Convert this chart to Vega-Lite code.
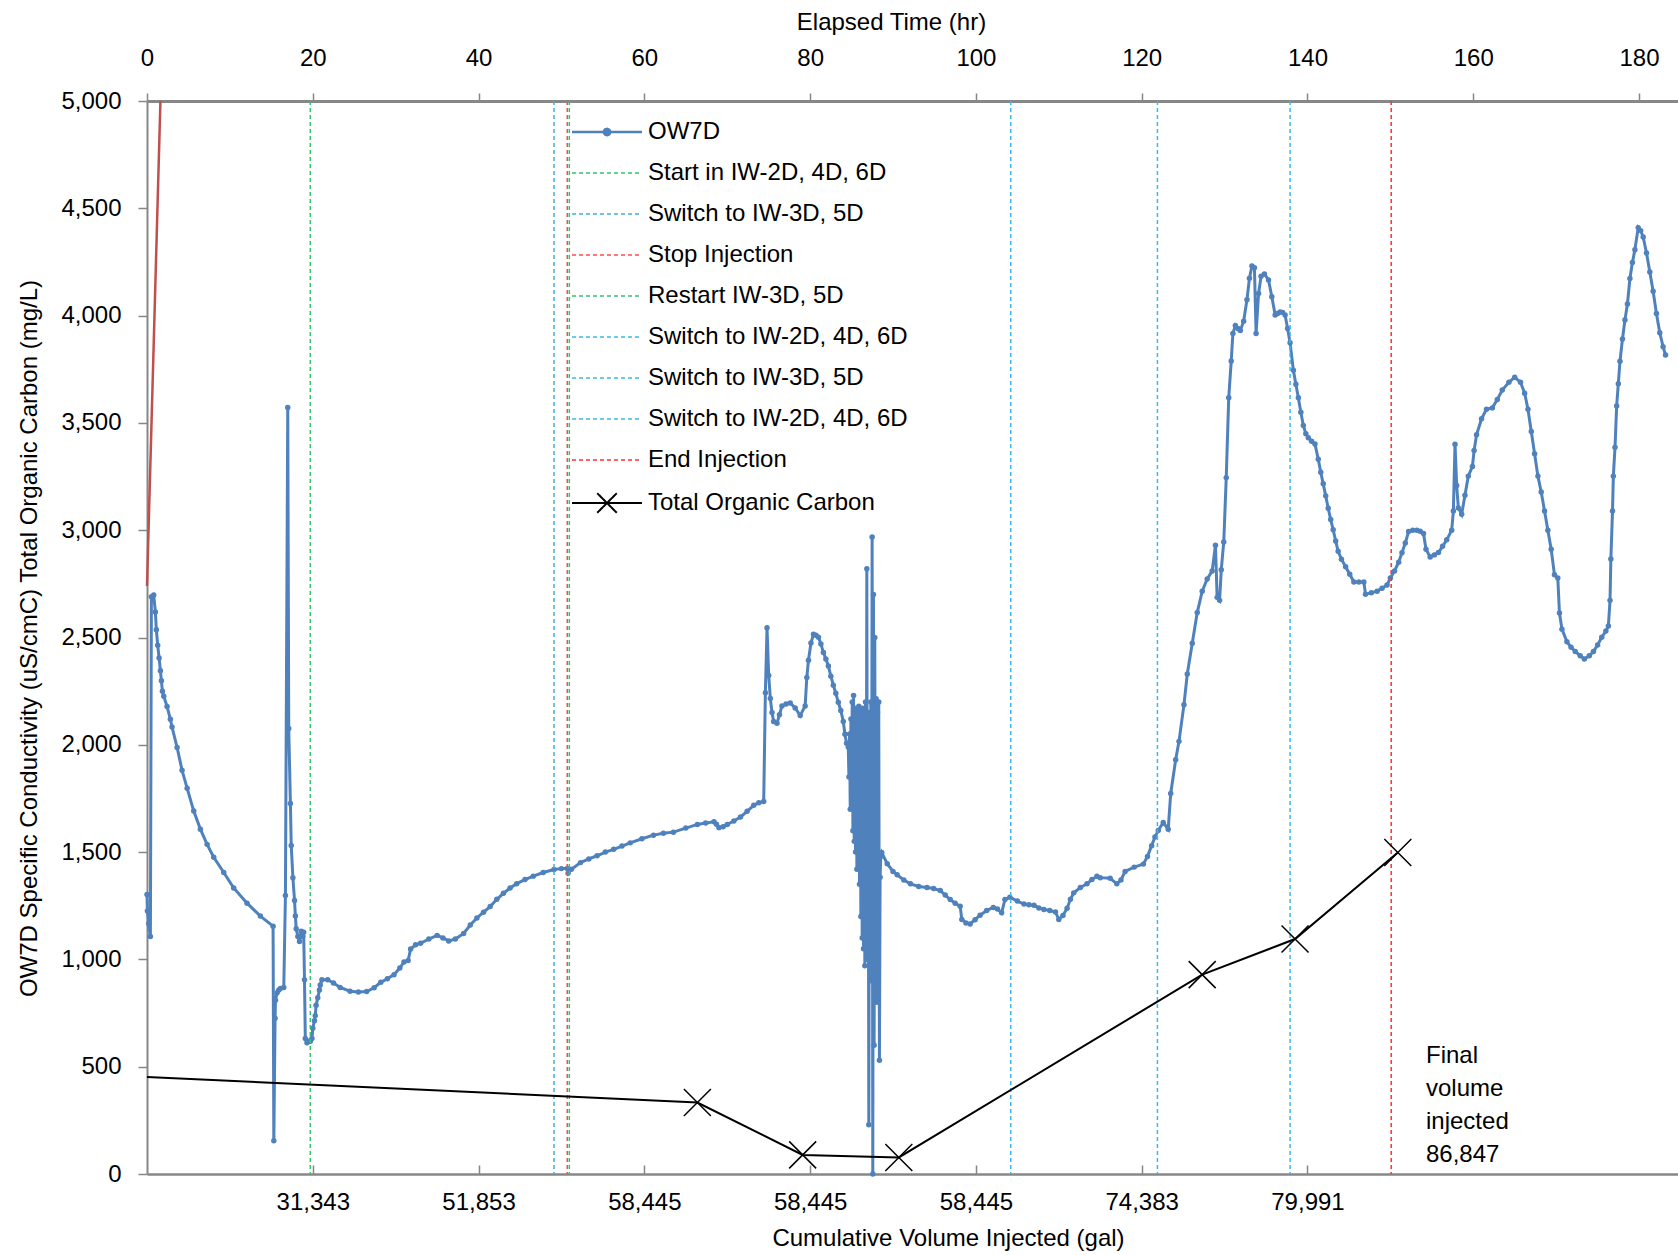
{
  "$schema": "https://vega.github.io/schema/vega-lite/v6.json",
  "width": 1531,
  "height": 1073,
  "autosize": {"type": "none"},
  "padding": {"left": 147, "top": 101, "right": 0, "bottom": 81},
  "background": "white",
  "config": {
    "font": "Liberation Sans",
    "view": {"stroke": null},
    "axis": {
      "labelFont": "Liberation Sans", "titleFont": "Liberation Sans",
      "labelFontSize": 24, "titleFontSize": 24, "labelColor": "#000000", "titleColor": "#000000",
      "titleFontWeight": "normal", "domainColor": "#878787", "tickColor": "#878787", "tickWidth": 1.5, "grid": false
    }
  },
  "datasets": {
    "ow7d": [
      {"hr":0,"v":1302},{"hr":0.05,"v":1226},{"hr":0.2,"v":1167},{"hr":0.41,"v":1107},{"hr":0.53,"v":2690},{"hr":0.81,"v":2698},{"hr":1.01,"v":2619},{"hr":1.13,"v":2536},{"hr":1.29,"v":2464},{"hr":1.46,"v":2405},{"hr":1.62,"v":2345},{"hr":1.74,"v":2298},{"hr":1.86,"v":2250},{"hr":2.02,"v":2226},{"hr":2.42,"v":2179},{"hr":2.82,"v":2119},{"hr":3.02,"v":2083},{"hr":3.63,"v":1988},{"hr":4.23,"v":1881},{"hr":4.84,"v":1798},{"hr":5.64,"v":1691},{"hr":6.44,"v":1607},{"hr":7.25,"v":1536},{"hr":8.05,"v":1476},{"hr":9.26,"v":1405},{"hr":10.46,"v":1333},{"hr":12.07,"v":1262},{"hr":13.68,"v":1202},{"hr":15.21,"v":1155},
      {"hr":15.3,"v":155},{"hr":15.45,"v":726},{"hr":15.5,"v":810},{"hr":15.7,"v":845},{"hr":15.9,"v":857},{"hr":16.1,"v":864},{"hr":16.5,"v":869},{"hr":16.7,"v":1298},{"hr":16.98,"v":3572},{"hr":17.1,"v":2076},{"hr":17.3,"v":1726},{"hr":17.4,"v":1531},{"hr":17.6,"v":1381},{"hr":17.8,"v":1274},{"hr":17.9,"v":1202},{"hr":18.0,"v":1143},{"hr":18.2,"v":1107},{"hr":18.4,"v":1083},{"hr":18.6,"v":1131},{"hr":18.8,"v":1107},{"hr":18.9,"v":1126},{"hr":19.0,"v":905},{"hr":19.1,"v":631},{"hr":19.3,"v":612},{"hr":19.5,"v":619},{"hr":19.7,"v":619},{"hr":19.9,"v":631},{"hr":20.0,"v":679},{"hr":20.2,"v":714},{"hr":20.3,"v":738},{"hr":20.4,"v":786},{"hr":20.6,"v":821},{"hr":20.8,"v":857},{"hr":20.9,"v":881},
      {"hr":21.1,"v":905},{"hr":21.8,"v":905},{"hr":22.5,"v":890},{"hr":23.3,"v":869},{"hr":24.5,"v":852},{"hr":25.5,"v":848},{"hr":26.5,"v":850},{"hr":27.4,"v":868},{"hr":28.2,"v":893},{"hr":29.0,"v":910},{"hr":29.8,"v":929},{"hr":30.5,"v":960},{"hr":31.0,"v":988},{"hr":31.5,"v":995},{"hr":31.8,"v":1048},{"hr":32.4,"v":1068},{"hr":33.0,"v":1075},{"hr":34.0,"v":1095},{"hr":35.0,"v":1112},{"hr":35.7,"v":1100},{"hr":36.4,"v":1086},{"hr":37.2,"v":1095},{"hr":38.2,"v":1121},{"hr":39.0,"v":1160},{"hr":39.8,"v":1193},{"hr":40.6,"v":1220},{"hr":41.4,"v":1246},{"hr":42.2,"v":1280},{"hr":43.0,"v":1308},{"hr":43.8,"v":1333},{"hr":44.6,"v":1353},{"hr":45.6,"v":1372},{"hr":46.6,"v":1388},{"hr":47.8,"v":1405},{"hr":49.1,"v":1419},{"hr":50.0,"v":1423},{"hr":50.7,"v":1424},{"hr":50.8,"v":1401},{"hr":51.2,"v":1420},{"hr":52.3,"v":1451},{"hr":53.3,"v":1468},{"hr":54.3,"v":1483},{"hr":55.3,"v":1500},{"hr":56.3,"v":1513},{"hr":57.3,"v":1528},{"hr":58.3,"v":1543},{"hr":59.7,"v":1562},{"hr":61.1,"v":1579},{"hr":62.3,"v":1588},{"hr":63.5,"v":1593},{"hr":65.0,"v":1612},{"hr":66.4,"v":1629},{"hr":67.4,"v":1636},{"hr":68.4,"v":1641},{"hr":68.7,"v":1630},{"hr":69.0,"v":1614},{"hr":69.5,"v":1618},{"hr":70.0,"v":1629},{"hr":70.8,"v":1645},{"hr":71.6,"v":1664},{"hr":72.4,"v":1690},{"hr":73.2,"v":1718},{"hr":73.8,"v":1730},{"hr":74.4,"v":1736},
      {"hr":74.6,"v":2243},{"hr":74.8,"v":2545},{"hr":75.0,"v":2323},{"hr":75.2,"v":2216},{"hr":75.4,"v":2150},{"hr":75.6,"v":2109},{"hr":76.0,"v":2100},{"hr":76.3,"v":2140},{"hr":76.6,"v":2181},{"hr":77.1,"v":2190},{"hr":77.6,"v":2195},{"hr":78.2,"v":2172},{"hr":78.8,"v":2136},{"hr":79.4,"v":2181},{"hr":79.6,"v":2314},{"hr":79.8,"v":2394},{"hr":80.1,"v":2474},{"hr":80.4,"v":2515},{"hr":80.7,"v":2510},{"hr":81.0,"v":2501},{"hr":81.3,"v":2470},{"hr":81.6,"v":2430},{"hr":81.9,"v":2400},{"hr":82.2,"v":2367},{"hr":82.5,"v":2320},{"hr":82.8,"v":2278},{"hr":83.1,"v":2240},{"hr":83.4,"v":2198},{"hr":83.7,"v":2160},{"hr":84.0,"v":2109},{"hr":84.2,"v":2049},{"hr":84.4,"v":2007},
      {"hr":84.6,"v":1990},{"hr":84.68,"v":1850},{"hr":84.76,"v":2050},{"hr":84.84,"v":1700},{"hr":84.92,"v":2120},{"hr":85.0,"v":1780},{"hr":85.08,"v":2200},{"hr":85.16,"v":1600},{"hr":85.24,"v":2230},{"hr":85.32,"v":1550},{"hr":85.4,"v":2150},{"hr":85.48,"v":1500},{"hr":85.56,"v":2170},{"hr":85.64,"v":1420},{"hr":85.72,"v":2100},{"hr":85.8,"v":1520},{"hr":85.88,"v":2180},{"hr":85.96,"v":1350},{"hr":86.04,"v":2130},{"hr":86.12,"v":1200},{"hr":86.2,"v":2160},{"hr":86.28,"v":1100},{"hr":86.36,"v":2170},{"hr":86.44,"v":1050},{"hr":86.52,"v":2150},{"hr":86.6,"v":970},{"hr":86.68,"v":2200},{"hr":86.76,"v":1150},{"hr":86.84,"v":2820},{"hr":86.92,"v":1000},{"hr":87.0,"v":2150},{"hr":87.08,"v":230},{"hr":87.16,"v":2100},{"hr":87.24,"v":1200},{"hr":87.32,"v":2200},{"hr":87.4,"v":900},{"hr":87.48,"v":2968},{"hr":87.56,"v":0},{"hr":87.64,"v":2700},{"hr":87.72,"v":600},{"hr":87.8,"v":2500},{"hr":87.88,"v":1000},{"hr":87.96,"v":2215},{"hr":88.04,"v":800},{"hr":88.12,"v":2150},{"hr":88.2,"v":1000},{"hr":88.28,"v":2200},{"hr":88.36,"v":530},{"hr":88.44,"v":1383},{"hr":88.52,"v":1480},{"hr":88.64,"v":1498},
      {"hr":89.3,"v":1446},{"hr":90.0,"v":1410},{"hr":90.5,"v":1394},{"hr":91.3,"v":1370},{"hr":92.1,"v":1352},{"hr":93.1,"v":1340},{"hr":94.1,"v":1335},{"hr":94.9,"v":1330},{"hr":95.7,"v":1321},{"hr":96.3,"v":1300},{"hr":96.9,"v":1279},{"hr":97.5,"v":1262},{"hr":98.1,"v":1248},{"hr":98.3,"v":1186},{"hr":98.8,"v":1170},{"hr":99.3,"v":1165},{"hr":99.9,"v":1185},{"hr":100.5,"v":1206},{"hr":101.3,"v":1228},{"hr":102.1,"v":1242},{"hr":102.6,"v":1235},{"hr":103.1,"v":1217},{"hr":103.5,"v":1279},{"hr":104.1,"v":1290},{"hr":105.0,"v":1272},{"hr":105.8,"v":1258},{"hr":106.4,"v":1255},{"hr":107.0,"v":1252},{"hr":107.6,"v":1240},{"hr":108.2,"v":1233},{"hr":108.9,"v":1228},{"hr":109.6,"v":1221},{"hr":110.0,"v":1186},{"hr":110.5,"v":1205},{"hr":111.0,"v":1238},{"hr":111.4,"v":1280},{"hr":111.8,"v":1310},{"hr":112.6,"v":1335},{"hr":113.4,"v":1352},{"hr":114.0,"v":1372},{"hr":114.6,"v":1387},{"hr":115.0,"v":1381},{"hr":116.2,"v":1378},{"hr":117.0,"v":1352},{"hr":117.5,"v":1370},{"hr":118.0,"v":1410},{"hr":119.1,"v":1430},{"hr":120.2,"v":1444},{"hr":120.7,"v":1480},{"hr":121.2,"v":1530},{"hr":121.6,"v":1570},{"hr":122.0,"v":1601},{"hr":122.6,"v":1638},{"hr":123.2,"v":1607},
      {"hr":123.5,"v":1773},{"hr":124.1,"v":1930},{"hr":124.5,"v":2016},{"hr":125.1,"v":2187},{"hr":125.5,"v":2330},{"hr":126.1,"v":2473},{"hr":126.7,"v":2616},{"hr":127.3,"v":2716},{"hr":127.9,"v":2773},{"hr":128.5,"v":2810},{"hr":128.9,"v":2930},{"hr":129.1,"v":2687},{"hr":129.4,"v":2673},{"hr":129.6,"v":2816},{"hr":129.9,"v":2945},{"hr":130.2,"v":3245},{"hr":130.5,"v":3617},{"hr":130.8,"v":3788},{"hr":131.0,"v":3917},{"hr":131.3,"v":3954},{"hr":131.6,"v":3940},{"hr":131.9,"v":3931},{"hr":132.3,"v":3974},{"hr":132.7,"v":4074},{"hr":133.0,"v":4174},{"hr":133.3,"v":4231},{"hr":133.6,"v":4223},{"hr":133.8,"v":3917},{"hr":134.1,"v":4103},{"hr":134.4,"v":4183},{"hr":134.8,"v":4194},{"hr":135.3,"v":4166},{"hr":135.7,"v":4088},{"hr":136.1,"v":4003},{"hr":136.4,"v":4010},{"hr":136.7,"v":4017},{"hr":137.0,"v":4015},{"hr":137.3,"v":4003},{"hr":137.6,"v":3940},{"hr":137.9,"v":3874},{"hr":138.3,"v":3745},{"hr":138.6,"v":3680},{"hr":138.9,"v":3617},{"hr":139.2,"v":3550},{"hr":139.5,"v":3488},{"hr":139.8,"v":3450},{"hr":140.1,"v":3431},{"hr":140.5,"v":3415},{"hr":140.9,"v":3402},{"hr":141.3,"v":3331},{"hr":141.6,"v":3270},{"hr":141.9,"v":3216},{"hr":142.2,"v":3160},{"hr":142.5,"v":3102},{"hr":142.8,"v":3050},{"hr":143.1,"v":3002},{"hr":143.4,"v":2950},{"hr":143.7,"v":2902},{"hr":144.1,"v":2865},{"hr":144.6,"v":2830},{"hr":145.1,"v":2795},{"hr":145.6,"v":2759},{"hr":146.2,"v":2759},{"hr":146.8,"v":2759},{"hr":147.0,"v":2702},{"hr":147.7,"v":2708},{"hr":148.4,"v":2716},{"hr":149.0,"v":2730},{"hr":149.6,"v":2745},{"hr":150.0,"v":2777},{"hr":150.5,"v":2810},{"hr":151.0,"v":2851},{"hr":151.4,"v":2895},{"hr":151.8,"v":2940},{"hr":152.2,"v":2994},{"hr":152.7,"v":3000},{"hr":153.2,"v":3000},{"hr":153.6,"v":2995},{"hr":154.0,"v":2985},{"hr":154.3,"v":2911},{"hr":154.8,"v":2875},{"hr":155.3,"v":2885},{"hr":155.8,"v":2896},{"hr":156.3,"v":2925},{"hr":156.8,"v":2955},{"hr":157.4,"v":3000},{"hr":157.6,"v":3089},{"hr":157.8,"v":3401},{"hr":158.0,"v":3208},{"hr":158.2,"v":3104},{"hr":158.6,"v":3074},{"hr":159.0,"v":3163},{"hr":159.4,"v":3252},{"hr":159.9,"v":3297},{"hr":160.1,"v":3371},{"hr":160.4,"v":3445},{"hr":161.0,"v":3519},{"hr":161.6,"v":3564},{"hr":162.3,"v":3570},{"hr":162.9,"v":3609},{"hr":163.5,"v":3653},{"hr":164.3,"v":3689},{"hr":165.0,"v":3713},{"hr":165.7,"v":3689},{"hr":166.2,"v":3638},{"hr":166.6,"v":3564},{"hr":167.0,"v":3460},{"hr":167.4,"v":3356},{"hr":167.8,"v":3252},{"hr":168.2,"v":3178},{"hr":168.6,"v":3089},{"hr":169.0,"v":3000},{"hr":169.4,"v":2911},{"hr":169.8,"v":2792},{"hr":170.2,"v":2777},{"hr":170.4,"v":2614},{"hr":170.7,"v":2539},{"hr":171.3,"v":2480},{"hr":171.8,"v":2455},{"hr":172.3,"v":2435},{"hr":172.9,"v":2415},{"hr":173.4,"v":2400},{"hr":174.0,"v":2415},{"hr":174.5,"v":2435},{"hr":175.0,"v":2465},{"hr":175.5,"v":2501},{"hr":176.0,"v":2530},{"hr":176.3,"v":2554},{"hr":176.5,"v":2673},{"hr":176.6,"v":2866},{"hr":176.8,"v":3089},{"hr":176.9,"v":3252},{"hr":177.1,"v":3386},{"hr":177.3,"v":3579},{"hr":177.5,"v":3683},{"hr":177.7,"v":3787},{"hr":178.0,"v":3891},{"hr":178.3,"v":3980},{"hr":178.6,"v":4054},{"hr":178.9,"v":4173},{"hr":179.2,"v":4247},{"hr":179.5,"v":4307},{"hr":179.9,"v":4410},{"hr":180.2,"v":4396},{"hr":180.5,"v":4366},{"hr":180.9,"v":4292},{"hr":181.3,"v":4203},{"hr":181.7,"v":4113},{"hr":182.1,"v":4010},{"hr":182.5,"v":3920},{"hr":182.9,"v":3855},{"hr":183.2,"v":3816}
    ],
    "events": [
      {"hr":19.7,"event":"Start in IW-2D, 4D, 6D"},
      {"hr":49.1,"event":"Switch to IW-3D, 5D"},
      {"hr":50.7,"event":"Stop Injection"},
      {"hr":50.95,"event":"Restart IW-3D, 5D"},
      {"hr":104.2,"event":"Switch to IW-2D, 4D, 6D"},
      {"hr":121.9,"event":"Switch to IW-3D, 5D #2"},
      {"hr":137.9,"event":"Switch to IW-2D, 4D, 6D #2"},
      {"hr":150.1,"event":"End Injection"}
    ],
    "toc": [
      {"hr":0,"v":452,"marker":false},
      {"hr":66.4,"v":333,"marker":true},
      {"hr":79.1,"v":89,"marker":true},
      {"hr":90.7,"v":77,"marker":true},
      {"hr":127.3,"v":929,"marker":true},
      {"hr":138.5,"v":1095,"marker":true},
      {"hr":150.9,"v":1498,"marker":true}
    ],
    "red": [{"hr":0,"v":2740},{"hr":1.62,"v":5000}],
    "note": [{"text":"Final\nvolume\ninjected\n86,847"}]
  },
  "layer": [
    {
      "data": {"name": "red"},
      "mark": {"type": "line", "color": "#C0504D", "strokeWidth": 2.5},
      "encoding": {
        "x": {"field": "hr", "type": "quantitative", "scale": {"domain": [0, 184.7], "nice": false, "zero": false}, "axis": null},
        "y": {"field": "v", "type": "quantitative", "scale": {"domain": [0, 5000], "nice": false}, "axis": null}
      }
    },
    {
      "data": {"name": "ow7d"},
      "mark": {"type": "line", "strokeWidth": 3, "point": {"filled": true, "size": 30}},
      "encoding": {
        "x": {"field": "hr", "type": "quantitative", "scale": {"domain": [0, 184.7], "nice": false, "zero": false},
          "axis": {"orient": "top", "values": [0,20,40,60,80,100,120,140,160,180], "title": "Elapsed Time (hr)",
            "titleX": 744, "titleY": -79, "titleAlign": "center", "titleBaseline": "middle", "titleAngle": 0,
            "labelBaseline": "middle", "labelPadding": 35, "tickSize": 8, "domainWidth": 3, "labelFlush": false, "labelOverlap": false}},
        "y": {"field": "v", "type": "quantitative", "scale": {"domain": [0, 5000], "nice": false},
          "axis": {"orient": "left", "values": [0,500,1000,1500,2000,2500,3000,3500,4000,4500,5000], "format": ",.0f",
            "title": "OW7D Specific Conductivity (uS/cmC) Total Organic Carbon (mg/L)",
            "titleX": -118, "titleY": 537, "titleAlign": "center", "titleBaseline": "middle", "titleAngle": -90,
            "tickSize": 9, "labelPadding": 17, "domainWidth": 2, "labelFlush": false, "labelOverlap": false}},
        "color": {"datum": "OW7D", "type": "nominal", "title": null,
          "scale": {
            "domain": ["OW7D","Start in IW-2D, 4D, 6D","Switch to IW-3D, 5D","Stop Injection","Restart IW-3D, 5D","Switch to IW-2D, 4D, 6D","Switch to IW-3D, 5D #2","Switch to IW-2D, 4D, 6D #2","End Injection","Total Organic Carbon"],
            "range": ["#4F81BD","#34C46F","#45ADD8","#FF4B4B","#34C46F","#3BB9EE","#3BB9EE","#3BB9EE","#FF3030","#000000"]
          },
          "legend": {
            "title": null, "orient": "none", "legendX": 448, "legendY": 19, "padding": 0,
            "labelFont": "Liberation Sans", "labelFontSize": 24, "labelColor": "#000000", "labelLimit": 600,
            "labelOffset": 29, "rowPadding": 17, "symbolSize": 4900,
            "labelExpr": "replace(datum.label, ' #2', '')",
            "encode": {"symbols": {"update": {
              "shape": {"signal": "datum.value === 'OW7D' ? 'M-1,0L1,0M0.09,0A0.09,0.09 0 1,1 -0.09,0A0.09,0.09 0 1,1 0.09,0' : datum.value === 'Total Organic Carbon' ? 'M-1,0L1,0M-0.28,-0.28L0.28,0.28M0.28,-0.28L-0.28,0.28' : 'M-1,0L1,0'"},
              "strokeDash": {"signal": "datum.value === 'OW7D' || datum.value === 'Total Organic Carbon' ? [1,0] : [4,3]"},
              "strokeWidth": {"signal": "datum.value === 'OW7D' ? 2.5 : datum.value === 'Total Organic Carbon' ? 2 : 1.5"},
              "fill": {"scale": "color", "field": "value"},
              "stroke": {"scale": "color", "field": "value"},
              "size": {"value": 4900},
              "opacity": {"value": 1}
            }}}
          }
        }
      }
    },
    {
      "data": {"name": "events"},
      "mark": {"type": "rule", "strokeDash": [4, 3], "strokeWidth": 1.5},
      "encoding": {
        "x": {"field": "hr", "type": "quantitative", "scale": {"domain": [0, 184.7], "nice": false, "zero": false}, "axis": null},
        "color": {"field": "event", "type": "nominal", "title": null}
      }
    },
    {
      "data": {"name": "toc"},
      "mark": {"type": "line", "strokeWidth": 2},
      "encoding": {
        "x": {"field": "hr", "type": "quantitative", "scale": {"domain": [0, 184.7], "nice": false, "zero": false},
          "axis": {"orient": "bottom", "values": [20,40,60,80,100,120,140],
            "labelExpr": "datum.value == 20 ? '31,343' : datum.value == 40 ? '51,853' : datum.value == 120 ? '74,383' : datum.value == 140 ? '79,991' : '58,445'",
            "title": "Cumulative Volume Injected (gal)",
            "titleX": 801, "titleY": 64, "titleAlign": "center", "titleBaseline": "middle",
            "labelBaseline": "middle", "tickSize": -9, "labelPadding": 37, "domainWidth": 2.5, "labelFlush": false, "labelOverlap": false}},
        "y": {"field": "v", "type": "quantitative", "scale": {"domain": [0, 5000], "nice": false}, "axis": null},
        "color": {"datum": "Total Organic Carbon", "type": "nominal", "title": null}
      }
    },
    {
      "data": {"name": "toc"},
      "transform": [{"filter": "datum.marker"}],
      "mark": {"type": "point", "shape": "M-1,-1L1,1M1,-1L-1,1", "size": 729, "filled": false, "stroke": "#000000", "strokeWidth": 1.5, "opacity": 1},
      "encoding": {
        "x": {"field": "hr", "type": "quantitative", "scale": {"domain": [0, 184.7], "nice": false, "zero": false}, "axis": null},
        "y": {"field": "v", "type": "quantitative", "scale": {"domain": [0, 5000], "nice": false}, "axis": null}
      }
    },
    {
      "data": {"name": "note"},
      "mark": {"type": "text", "align": "left", "baseline": "middle", "fontSize": 24, "lineHeight": 33, "lineBreak": "\n", "color": "#000000", "font": "Liberation Sans"},
      "encoding": {
        "text": {"field": "text"},
        "x": {"datum": 154.3, "type": "quantitative", "scale": {"domain": [0, 184.7], "nice": false, "zero": false}, "axis": null},
        "y": {"datum": 550, "type": "quantitative", "scale": {"domain": [0, 5000], "nice": false}, "axis": null}
      }
    }
  ],
  "resolve": {"axis": {"x": "independent", "y": "independent"}}
}
